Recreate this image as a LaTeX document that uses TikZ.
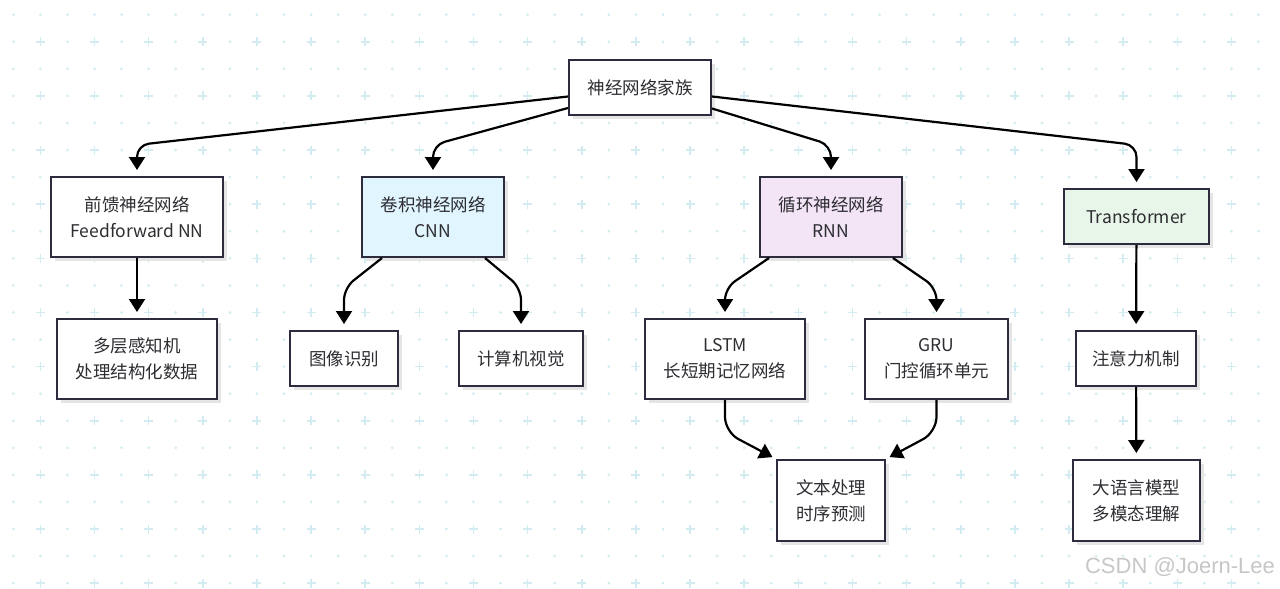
\documentclass[tikz,border=0pt]{standalone}
\usepackage{fontspec}
\setmainfont{Noto Sans CJK SC}
\newfontfamily\wmfont{Liberation Sans}
\usetikzlibrary{arrows.meta,calc,shadows}
\definecolor{gridcolor}{RGB}{210,236,241}
\definecolor{boxline}{RGB}{44,44,62}
\definecolor{textgray}{RGB}{45,45,50}
\definecolor{cnnfill}{HTML}{E1F5FE}
\definecolor{rnnfill}{HTML}{F3E5F5}
\definecolor{trffill}{HTML}{E8F5E9}
\begin{document}
\begin{tikzpicture}
[x=1pt,y=-1pt,
  boxdecorate/.style={shape=rectangle,draw=boxline,line width=2pt,inner sep=0pt,%
    text=textgray,align=center,font=\fontsize{17.5}{26}\selectfont,%
    drop shadow={shadow xshift=4pt,shadow yshift=-4pt,fill=black!10,opacity=1}},%
  linedecorate/.style={-{Triangle[length=13pt,width=16pt]},line width=2.2pt,%
    rounded corners=12pt,shorten >=6pt},%
  gridmark/.style={gridcolor,line width=1.6pt}]
\useasboundingbox[fill=white] (0,0) rectangle (1280,589);
%% background grid
\foreach \i in {0,...,46} {
  \foreach \j in {0,...,21} {
    \pgfmathsetmacro{\gx}{13.3+27.07*\i}
    \pgfmathsetmacro{\gy}{14.7+27.07*\j}
    \ifodd\i \ifodd\j
      \draw[gridmark] (\gx-4.5,\gy) -- (\gx+4.5,\gy) (\gx,\gy-4.5) -- (\gx,\gy+4.5);
    \else \fill[gridcolor] (\gx,\gy) circle (1.5pt); \fi
    \else \fill[gridcolor] (\gx,\gy) circle (1.5pt); \fi
  }
}
%% nodes or boxes
\foreach \nodename/\x/\y/\w/\h/\fillc/\nodetext in {
  fam/640/87.5/142/55/white/{神经网络家族},
  ff/137/217/172/80/white/{前馈神经网络\\Feedforward NN},
  cnn/433/217/142/80/cnnfill/{卷积神经网络\\CNN},
  rnn/831/217/142/80/rnnfill/{循环神经网络\\RNN},
  trans/1136.5/216.5/145/55/trffill/{Transformer},
  mlp/137/359/160/80/white/{多层感知机\\处理结构化数据},
  img/344/358.5/108/55/white/{图像识别},
  cv/521/358.5/124/55/white/{计算机视觉},
  lstm/725/359/160/80/white/{LSTM\\长短期记忆网络},
  gru/936.5/359/143/80/white/{GRU\\门控循环单元},
  txt/831/500.5/108/81/white/{文本处理\\时序预测},
  att/1136/358.5/120/55/white/{注意力机制},
  llm/1136.5/500.5/127/81/white/{大语言模型\\多模态理解}} {
  \node (\nodename) at (\x,\y) [boxdecorate,fill=\fillc,minimum width=\w,minimum height=\h] {\nodetext};
}
\coordinate (lvlA) at (0,145);
\coordinate (lvlB) at (0,288);
\coordinate (lvlC) at (0,432);
%% edges or arrows
\foreach \side/\dy/\endnode in {west/9/ff, west/20.5/cnn, east/21/rnn, east/9/trans} {
  \draw[linedecorate] ($(fam.\side)+(0,\dy)$) -- (\endnode.north |- lvlA) -- (\endnode.north);
}
\foreach \startnode/\corner/\dx/\endnode in {cnn/south west/21/img, cnn/south east/-20/cv,
    rnn/south west/10/lstm, rnn/south east/-10/gru} {
  \draw[linedecorate] ($(\startnode.\corner)+(\dx,0)$) -- (\endnode.north |- lvlB) -- (\endnode.north);
}
\foreach \startnode/\corner in {lstm/north west, gru/north east} {
  \draw[linedecorate,rounded corners=15pt,shorten >=4pt] (\startnode.south) -- (\startnode.south |- lvlC) -- (txt.\corner);
}
\foreach \startnode/\endnode in {ff/mlp, trans/att, att/llm} {
  \draw[linedecorate] (\startnode) -- (\endnode);
}
%% watermark
\node[font=\wmfont\fontsize{22}{22}\selectfont,text=black!22] (mark) at (1180,567) {CSDN @Joern-Lee};
\end{tikzpicture}
\end{document}
